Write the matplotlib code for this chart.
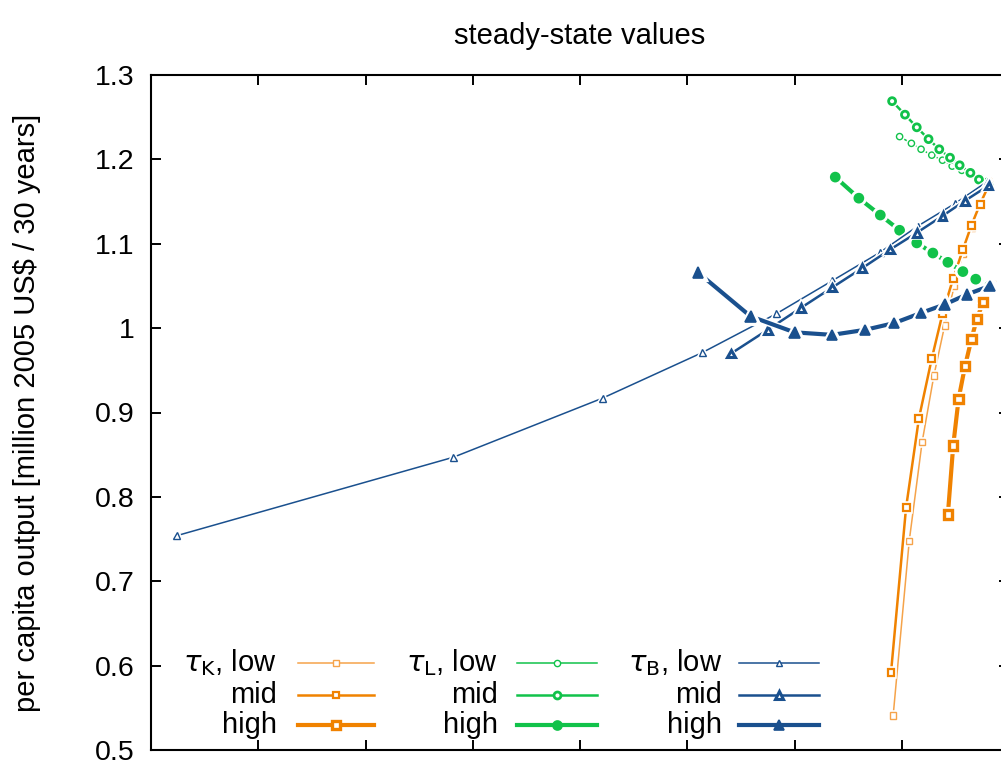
#!/usr/bin/python3

# Steady-state per capita output for the three tax instruments (low / mid / high)

import numpy as np
import matplotlib
matplotlib.use('Agg')
import matplotlib.pyplot as plt
import matplotlib.patheffects as pe
from matplotlib.ticker import FixedLocator, FixedFormatter

# values (x has no labels in the original)
tauK_low_x = [6.92, 7.07, 7.19, 7.30, 7.40, 7.49, 7.57, 7.65, 7.73, 7.80]
tauK_low_y = [0.541, 0.748, 0.865, 0.944, 1.003, 1.050, 1.088, 1.119, 1.147, 1.174]
tauK_mid_x = [6.90, 7.04, 7.16, 7.28, 7.38, 7.48, 7.57, 7.65, 7.73, 7.81]
tauK_mid_y = [0.592, 0.787, 0.893, 0.964, 1.017, 1.059, 1.093, 1.122, 1.147, 1.169]
tauK_high_x = [7.43, 7.48, 7.53, 7.59, 7.65, 7.70, 7.76, 7.82]
tauK_high_y = [0.779, 0.861, 0.916, 0.955, 0.987, 1.011, 1.031, 1.050]

tauL_low_x = [6.98, 7.09, 7.18, 7.28, 7.38, 7.47, 7.56, 7.65, 7.73, 7.80]
tauL_low_y = [1.227, 1.219, 1.212, 1.205, 1.199, 1.192, 1.187, 1.182, 1.178, 1.174]
tauL_mid_x = [6.91, 7.03, 7.14, 7.25, 7.35, 7.45, 7.54, 7.64, 7.72, 7.81]
tauL_mid_y = [1.269, 1.253, 1.238, 1.224, 1.212, 1.202, 1.193, 1.184, 1.176, 1.169]
tauL_high_x = [6.38, 6.60, 6.80, 6.98, 7.14, 7.29, 7.43, 7.57, 7.69, 7.82]
tauL_high_y = [1.179, 1.154, 1.134, 1.116, 1.101, 1.089, 1.078, 1.067, 1.058, 1.050]

tauB_low_x = [0.24, 2.82, 4.21, 5.14, 5.83, 6.35, 6.80, 7.15, 7.50, 7.80]
tauB_low_y = [0.754, 0.847, 0.917, 0.971, 1.017, 1.056, 1.090, 1.121, 1.148, 1.174]
tauB_mid_x = [5.41, 5.75, 6.06, 6.35, 6.63, 6.89, 7.14, 7.38, 7.59, 7.81]
tauB_mid_y = [0.970, 0.998, 1.024, 1.048, 1.071, 1.093, 1.113, 1.133, 1.151, 1.169]
tauB_high_x = [5.10, 5.59, 6.00, 6.35, 6.66, 6.93, 7.18, 7.40, 7.61, 7.82]
tauB_high_y = [1.066, 1.014, 0.995, 0.992, 0.998, 1.006, 1.018, 1.028, 1.040, 1.050]

y_ticks = [0.5, 0.6, 0.7, 0.8, 0.9, 1.0, 1.1, 1.2, 1.3]
y_tick_labels = ['0.5', '0.6', '0.7', '0.8', '0.9', '1', '1.1', '1.2', '1.3']
x_ticks = [1, 2, 3, 4, 5, 6, 7]

plt.rcParams['font.family'] = ['Liberation Sans', 'DejaVu Sans']
plt.rcParams['mathtext.fontset'] = 'dejavusans'

orange_low = '#f5a34a'
orange = '#f08200'
green = '#11c24a'
blue = '#1a508e'

# (x, y, color, linewidth, marker, markersize, markeredgewidth, facecolor, legend label, legend column, legend row)
series = [
    (tauK_low_x, tauK_low_y, orange_low, 1.1, 's', 4.5, 1.0, 'white', r'$\tau_{\rm K}$, low', 0, 0),
    (tauK_mid_x, tauK_mid_y, orange, 1.8, 's', 5, 1.6, 'white', 'mid', 0, 1),
    (tauK_high_x, tauK_high_y, orange, 3.0, 's', 6, 2.4, 'white', 'high', 0, 2),
    (tauL_low_x, tauL_low_y, green, 1.1, 'o', 4.5, 1.0, 'white', r'$\tau_{\rm L}$, low', 1, 0),
    (tauL_mid_x, tauL_mid_y, green, 1.8, 'o', 5, 2.0, 'white', 'mid', 1, 1),
    (tauL_high_x, tauL_high_y, green, 3.0, 'o', 6.5, 1.2, green, 'high', 1, 2),
    (tauB_low_x, tauB_low_y, blue, 1.1, '^', 5, 1.0, 'white', r'$\tau_{\rm B}$, low', 2, 0),
    (tauB_mid_x, tauB_mid_y, blue, 1.8, '^', 5.5, 2.2, 'white', 'mid', 2, 1),
    (tauB_high_x, tauB_high_y, blue, 3.0, '^', 7.5, 1.2, blue, 'high', 2, 2),
]

fig = plt.figure(figsize=(10.01, 7.64), dpi=100)
ax = fig.add_axes([151 / 1001, 14 / 764, 858 / 1001, 675 / 764])

for x, y, color, lw, marker, ms, mew, fc, label, col, row in series:
    halo = [pe.Stroke(linewidth=lw + 2.2, foreground='white'), pe.Normal()]
    ax.plot(x, y, color=color, lw=lw, marker=marker, ms=ms, mew=mew,
            mfc=fc, mec=color, path_effects=halo, zorder=3)

    # legend sample, drawn in axes coordinates like the original key
    text_right = [0.147, 0.404, 0.666][col]
    line_left = [0.171, 0.426, 0.685][col]
    line_right = [0.260, 0.520, 0.779][col]
    row_y = [0.129, 0.081, 0.037][row]
    ax.text(text_right, row_y, label, transform=ax.transAxes, ha='right',
            va='center', fontsize=21)
    ax.plot([line_left, line_right], [row_y, row_y], color=color, lw=lw,
            transform=ax.transAxes, zorder=4, clip_on=False)
    ax.plot([(line_left + line_right) / 2], [row_y], color=color, marker=marker,
            ms=ms, mew=mew, mfc=fc, mec=color, transform=ax.transAxes,
            zorder=4, clip_on=False)

ax.set_xlim(0, 8)
ax.set_ylim(0.5, 1.3)
ax.xaxis.set_major_locator(FixedLocator(x_ticks))
ax.xaxis.set_major_formatter(FixedFormatter([''] * len(x_ticks)))
ax.yaxis.set_major_locator(FixedLocator(y_ticks))
ax.yaxis.set_major_formatter(FixedFormatter(y_tick_labels))
ax.tick_params(direction='in', length=7, width=1.4, top=True, right=True,
               labelsize=20.5, pad=12)
for spine in ax.spines.values():
    spine.set_linewidth(1.5)

ax.set_title('steady-state values', fontsize=21, pad=22)
ax.set_ylabel('per capita output [million 2005 US$ / 30 years]', fontsize=21)
ax.yaxis.set_label_coords(-0.128, 0.5)

fig.savefig('out.png', dpi=100)
